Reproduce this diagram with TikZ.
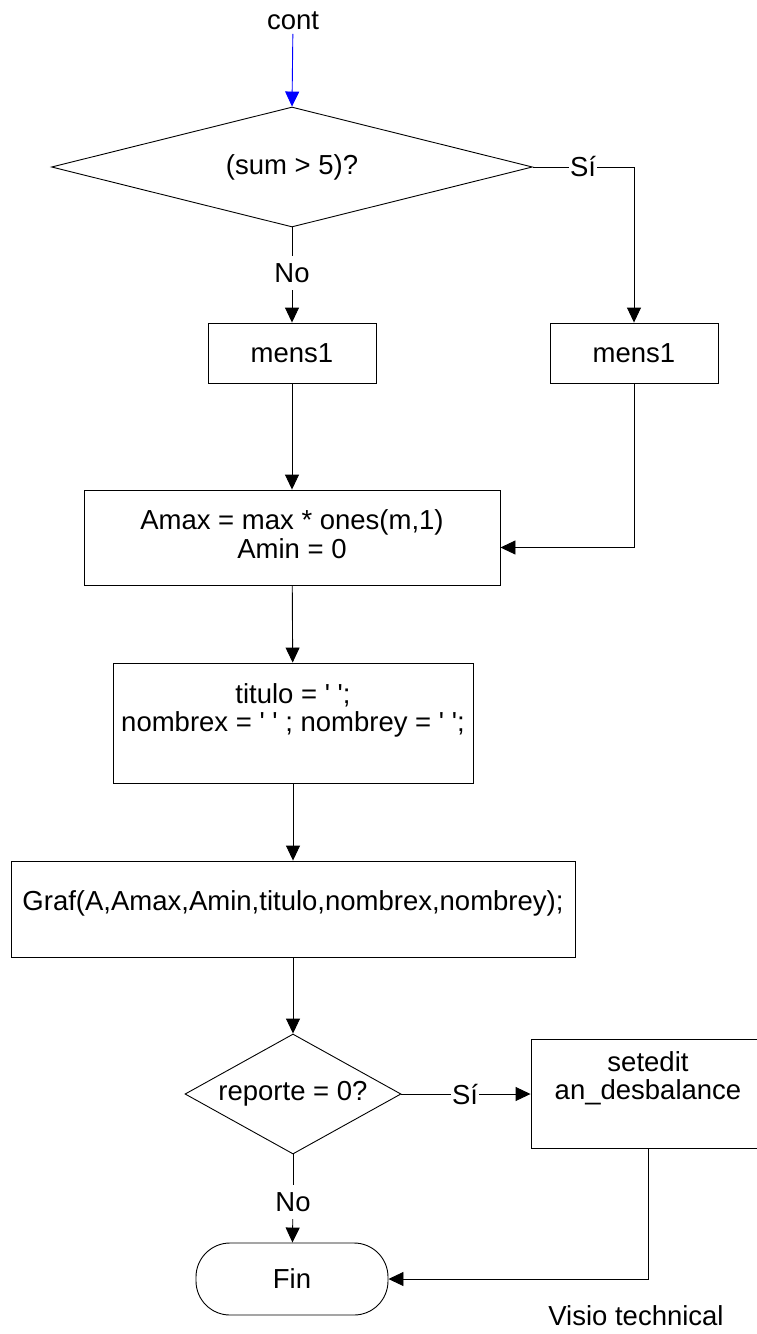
\documentclass[tikz,border=0pt]{standalone}
\usepackage{fontspec}
\setmainfont{Liberation Sans}[Ligatures=TeXOff]
\usetikzlibrary{shapes.geometric, arrows.meta}

\begin{document}
\begin{tikzpicture}[x=1pt, y=-1pt,
  line width=0.9pt,
  every node/.style={font=\fontsize{27.5}{28.5}\selectfont},
  box/.style={draw, rectangle, inner sep=0pt},
  dec/.style={draw, diamond, inner sep=0pt},
  term/.style={draw, rectangle, rounded corners=34pt, inner sep=0pt},
  txt/.style={align=center, inner sep=0pt},
  lbl/.style={inner xsep=2pt, inner ysep=7pt},
  arr/.style={-{Triangle[length=15pt,width=14pt]}},
]
\clip (0,0) rectangle (757,1334);

% decision and process blocks
\node (cont) at (293,21) {cont};
\node[dec, aspect=4, minimum width=481pt, minimum height=120pt] (d1) at (292,167) {(sum > 5)?};
\node[lbl] (no1) at (292,273) {No};
\node[lbl, inner xsep=1pt] (si1) at (583,167) {Sí};
\node[box, minimum width=168pt, minimum height=60pt] (m1) at (292,353) {mens1};
\node[box, minimum width=168pt, minimum height=60pt] (m2) at (634,353) {mens1};

\node[box, minimum width=416pt, minimum height=95pt] (a) at (292,537.5) {};
\node[txt] (atxt) at (292,534) {Amax = max * ones(m,1)\\Amin = 0};

\node[box, minimum width=360pt, minimum height=120pt] (t) at (293,723) {};
\node[txt] (ttxt) at (293,710.5) {titulo = ' ';\\nombrex = ' ' ; nombrey = ' ';};

\node[box, minimum width=564pt, minimum height=96pt] (g) at (293,909) {};
\node[txt] (gtxt) at (293,903) {Graf(A,Amax,Amin,titulo,nombrex,nombrey);};

\node[dec, aspect=1.8, minimum width=216pt, minimum height=120pt] (d2) at (293,1094) {reporte = 0?};
\node[lbl, inner xsep=1pt] (si2) at (465,1094) {Sí};
\node[box, minimum width=234pt, minimum height=109pt] (s) at (648,1094) {};
\node[txt] (stxt) at (648,1078.5) {setedit\\an\_desbalance};
\node[lbl] (no2) at (293,1202) {No};
\node[term, minimum width=192pt, minimum height=72pt] (f) at (292,1279) {Fin};

\node (visio) at (636,1316) {Visio technical};

% connectors
\draw[arr, blue] (cont) -- (d1.north);
\draw (d1.south) -- (no1);
\draw[arr] (no1) -- (m1.north);
\draw (d1.east) -- (si1);
\draw[arr] (si1) -| (m2.north);
\draw[arr] (m1) -- (a);
\draw[arr] (m2.south) |- ([yshift=-10pt]a.east);
\draw[arr] (a) -- (t);
\draw[arr] (t) -- (g);
\draw[arr] (g) -- (d2);
\draw (d2.east) -- (si2);
\draw[arr] (si2) -- (s.west);
\draw (d2.south) -- (no2);
\draw[arr] (no2) -- (f);
\draw[arr] (s.south) |- (f.east);
\end{tikzpicture}
\end{document}
